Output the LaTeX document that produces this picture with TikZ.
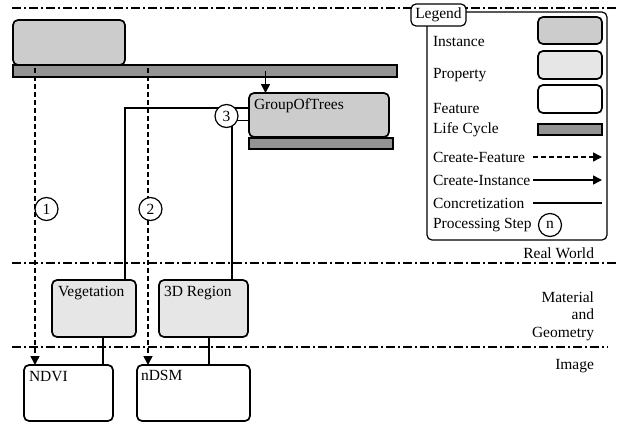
\documentclass[tikz,border=0pt]{standalone}
\usepackage{fontspec}
\setmainfont{Liberation Serif}
\usetikzlibrary{arrows.meta,calc}
\definecolor{instgray}{HTML}{CCCCCC}
\definecolor{propgray}{HTML}{E6E6E6}
\definecolor{lcgray}{HTML}{939393}
\begin{document}
\begin{tikzpicture}[x=1pt,y=-1pt,
  font=\fontsize{15.5}{17.5}\selectfont,
  box/.style={draw=black,line width=1.7pt,rounded corners=5pt,inner sep=0pt,outer sep=0pt},
  instbox/.style={box,fill=instgray},
  propbox/.style={box,fill=propgray},
  featbox/.style={box,fill=white},
  lcbar/.style={draw=black,line width=1.7pt,fill=lcgray,inner sep=0pt,outer sep=0pt},
  txt/.style={inner sep=0pt,outer sep=0pt},
  stepc/.style={draw=black,line width=1.2pt,circle,fill=white,inner sep=0pt,minimum size=23pt},
  sepline/.style={line width=1.4pt,dash pattern=on 9pt off 3pt on 2pt off 3pt},
  featarrow/.style={line width=1.6pt,dash pattern=on 5pt off 3pt,-{Triangle[width=9pt,length=9pt]}},
  instarrow/.style={line width=1.6pt,-{Triangle[width=9pt,length=9pt]}},
  concr/.style={line width=1.6pt},
]
\useasboundingbox (0,0) rectangle (619,437);

% separator lines
\coordinate (la) at (12,8);   \coordinate (lb) at (619,8);
\coordinate (lc) at (12,263); \coordinate (ld) at (619,263);
\coordinate (le) at (12,347); \coordinate (lf) at (608,347);
\draw[sepline] (la) -- (lb);
\draw[sepline] (lc) -- (ld);
\draw[sepline] (le) -- (lf);

% legend
\node[box,line width=1.2pt,fill=white,minimum width=180pt,minimum height=228pt] (leg) at (517,126) {};
\node[box,line width=1.2pt,fill=white,minimum width=55pt,minimum height=22pt] (legl) at (438.5,15) {Legend};
\node[instbox,minimum width=64pt,minimum height=27pt] (li) at (570,30.5) {};
\node[propbox,minimum width=64pt,minimum height=28pt] (lp) at (570,65) {};
\node[featbox,minimum width=64pt,minimum height=28pt] (lf2) at (570,99) {};
\node[lcbar,minimum width=64pt,minimum height=11pt] (llc) at (570,129.5) {};
\node[txt,anchor=west] (t1) at (433,41) {Instance};
\node[txt,anchor=west] (t2) at (433,75) {Property};
\node[txt,anchor=west] (t3) at (433,108) {Feature};
\node[txt,anchor=west] (t4) at (433,130) {Life Cycle};
\node[txt,anchor=west] (t5) at (433,157) {Create-Feature};
\node[txt,anchor=west] (t6) at (433,180) {Create-Instance};
\node[txt,anchor=west] (t7) at (433,203) {Concretization};
\node[txt,anchor=west] (t8) at (433,225) {Processing Step};
\coordinate (a1) at (533,157); \coordinate (a2) at (602,157);
\coordinate (b1) at (533,180); \coordinate (b2) at (602,180);
\coordinate (c1) at (533,203); \coordinate (c2) at (602,203);
\draw[featarrow] (a1) -- (a2);
\draw[instarrow] (b1) -- (b2);
\draw[concr] (c1) -- (c2);
\node[stepc] (cn) at (550,225) {n};

% layer labels
\node[txt,anchor=east] (rw) at (594,253) {Real World};
\node[txt,anchor=east,align=right] (mg) at (594,316) {Material\\and\\Geometry};
\node[txt,anchor=east] (im) at (594,366) {Image};

% main boxes
\node[lcbar,minimum width=384pt,minimum height=12pt] (bar1) at (205,71) {};
\node[instbox,minimum width=112pt,minimum height=45pt] (topinst) at (69,42.5) {};
\node[lcbar,minimum width=144pt,minimum height=11pt] (bar2) at (321,143.5) {};
\node[instbox,minimum width=140pt,minimum height=44pt] (got) at (319,115) {};
\node[propbox,minimum width=84pt,minimum height=57pt] (veg) at (94,308.5) {};
\node[propbox,minimum width=89pt,minimum height=57pt] (reg) at (203.5,308.5) {};
\node[featbox,minimum width=89pt,minimum height=56pt] (ndvi) at (68.5,393) {};
\node[featbox,minimum width=113pt,minimum height=56pt] (ndsm) at (193.5,393) {};
\node[txt,anchor=west] (tgot) at (254,106) {GroupOfTrees};
\node[txt,anchor=west] (tveg) at (58,293) {Vegetation};
\node[txt,anchor=west] (treg) at (164,293) {3D Region};
\node[txt,anchor=west] (tndvi) at (29,377) {NDVI};
\node[txt,anchor=west] (tndsm) at (141,375) {nDSM};

% connectors
\coordinate (s1) at (35,68);
\coordinate (s2) at (148,68);
\coordinate (s3) at (265.5,71);
\draw[featarrow] (s1) -- (s1 |- ndvi.north);
\draw[featarrow] (s2) -- (s2 |- ndsm.north);
\draw[instarrow] (s3) -- (s3 |- got.north);
\coordinate (k1) at (125,108);
\coordinate (k2) at (232,120.5);
\coordinate (k3) at (103,0);
\coordinate (k4) at (209,0);
\draw[concr] (veg.north -| k1) -- (k1) -- (k1 -| got.west);
\draw[concr] (reg.north -| k2) -- (k2) -- (k2 -| got.west);
\draw[concr] (veg.south -| k3) -- (ndvi.north -| k3);
\draw[concr] (reg.south -| k4) -- (ndsm.north -| k4);
\node[stepc] (n1) at (46.5,209) {1};
\node[stepc] (n2) at (150.5,209) {2};
\node[stepc] (n3) at (226.5,116) {3};
\end{tikzpicture}
\end{document}
